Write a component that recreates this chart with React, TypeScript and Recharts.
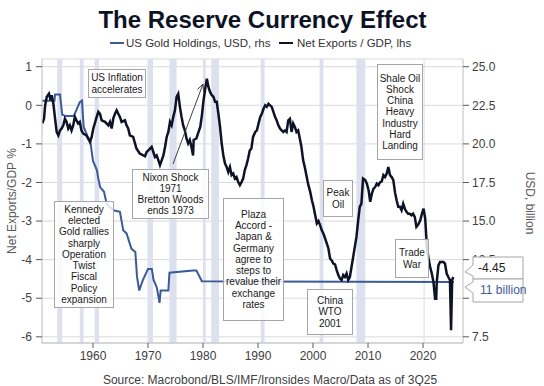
import { LineChart, Line, XAxis, YAxis, CartesianGrid, ReferenceArea } from 'recharts';

// Net exports / GDP (%), quarterly-ish
const netExportYears = [
  1950.8, 1951.1, 1951.3, 1951.6, 1952.0, 1952.3, 1952.5, 1952.8, 1953.1, 1953.4, 1953.7, 1954.0,
  1954.3, 1954.6, 1954.9, 1955.2, 1955.5, 1955.8, 1956.1, 1956.4, 1956.7, 1957.0, 1957.3, 1957.6,
  1957.9, 1958.2, 1958.8, 1959.45, 1959.76, 1960.06, 1960.67, 1960.97, 1961.27, 1961.58, 1962.18,
  1962.79, 1963.09, 1963.39, 1963.7, 1964.0, 1964.3, 1964.6, 1964.9, 1965.2, 1965.8, 1966.1, 1966.4,
  1966.7, 1967.3, 1967.9, 1968.5, 1969.15, 1969.45, 1969.76, 1970.06, 1970.67, 1970.97, 1971.27,
  1971.58, 1971.88, 1972.18, 1972.5, 1972.8, 1973.1, 1973.4, 1973.7, 1974.0, 1974.3, 1974.6, 1974.9,
  1975.2, 1975.5, 1975.8, 1976.1, 1976.4, 1976.7, 1977.0, 1977.3, 1977.6, 1977.9, 1978.2, 1978.3,
  1978.8, 1979.1, 1979.5, 1979.8, 1980.1, 1980.4, 1980.7, 1981.0, 1981.3, 1981.6, 1981.9, 1982.2,
  1982.5, 1982.8, 1983.1, 1983.4, 1983.7, 1984.0, 1984.3, 1984.6, 1984.9, 1985.2, 1985.5, 1985.8,
  1986.1, 1986.4, 1986.7, 1987.0, 1987.3, 1987.6, 1987.9, 1988.2, 1988.5, 1988.8, 1989.1, 1989.5,
  1989.8, 1990.1, 1990.4, 1990.7, 1991.0, 1991.3, 1991.6, 1991.9, 1992.2, 1992.5, 1992.8, 1993.1,
  1993.4, 1993.7, 1994.0, 1994.3, 1994.6, 1994.9, 1995.2, 1995.5, 1995.8, 1996.1, 1996.4, 1996.7,
  1997.0, 1997.3, 1997.6, 1997.9, 1998.2, 1998.5, 1998.8, 1999.1, 1999.5, 1999.8, 2000.1, 2000.4,
  2000.7, 2001.0, 2001.3, 2001.6, 2001.9, 2002.2, 2002.5, 2002.8, 2003.1, 2003.4, 2003.7, 2004.0,
  2004.3, 2004.6, 2004.9, 2005.2, 2005.5, 2005.8, 2006.1, 2006.4, 2006.7, 2007.0, 2007.3, 2007.6,
  2007.9, 2008.2, 2008.5, 2008.8, 2009.1, 2009.5, 2009.8, 2010.1, 2010.4, 2010.7, 2011.0, 2011.3,
  2011.6, 2011.9, 2012.2, 2012.5, 2012.8, 2013.1, 2013.4, 2013.7, 2014.0, 2014.3, 2014.6, 2014.9,
  2015.2, 2015.5, 2015.8, 2016.1, 2016.4, 2016.7, 2017.0, 2017.3, 2017.6, 2017.9, 2018.2, 2018.5,
  2018.8, 2019.1, 2019.5, 2019.8, 2020.1, 2020.4, 2020.7, 2021.0, 2021.3, 2021.6, 2021.9, 2022.2,
  2022.4, 2022.5, 2022.8, 2023.1, 2023.4, 2023.7, 2024.0, 2024.3, 2024.6, 2024.9, 2025.1, 2025.3,
  2025.5,
];
const netExportValues = [
  -0.47, -0.34, 0.0, 0.22, 0.3, 0.13, 0.26, 0.04, -0.34, -0.69, -0.78, -0.65,
  -0.6, -0.52, -0.35, -0.43, -0.6, -0.52, -0.65, -0.52, -0.3, -0.39, -0.47, -0.43,
  -0.65, -0.73, -0.78, -0.95, -0.82, -0.6, -0.3, -0.17, -0.22, -0.39, -0.43,
  -0.52, -0.43, -0.6, -0.34, -0.22, -0.13, -0.22, -0.3, -0.43, -0.39, -0.52, -0.6,
  -0.78, -0.82, -1.12, -1.25, -1.3, -1.32, -1.21, -1.17, -1.08, -1.21, -1.34,
  -1.3, -1.42, -1.55, -1.42, -1.3, -1.08, -0.82, -0.69, -0.43, -0.52, -0.3, -0.13,
  0.22, 0.3, -0.04, -0.3, -0.52, -0.65, -0.86, -0.99, -0.9, -1.08, -1.3, -0.9,
  -0.86, -0.73, -0.56, -0.26, 0.13, 0.43, 0.69, 0.47, 0.34, 0.26, 0.22, 0.09,
  0.09, -0.22, -0.56, -0.99, -1.3, -1.51, -1.6, -1.73, -1.6, -1.81, -1.77, -1.9,
  -1.86, -1.99, -2.07, -1.99, -1.9, -1.68, -1.55, -1.38, -1.17, -1.12, -0.82, -0.69,
  -0.65, -0.47, -0.3, -0.22, -0.09, 0.0, -0.04, 0.04, 0.0, -0.04, -0.17, -0.3,
  -0.39, -0.52, -0.6, -0.65, -0.69, -0.65, -0.69, -0.39, -0.35, -0.69, -0.47, -0.56,
  -0.69, -0.65, -0.86, -1.08, -1.42, -1.6, -1.81, -2.03, -2.25, -2.46, -2.63, -2.85,
  -3.06, -3.0, -3.11, -3.24, -3.33, -3.45, -3.58, -3.71, -3.97, -4.02, -4.1, -4.12,
  -4.27, -4.4, -4.49, -4.53, -4.4, -4.45, -4.36, -4.53, -4.45, -4.19, -3.93, -3.67,
  -3.41, -3.0, -2.63, -2.55, -1.9, -1.94, -2.03, -2.2, -2.5, -2.29, -2.16, -2.12,
  -2.03, -2.07, -1.99, -1.97, -1.81, -1.86, -1.77, -1.6, -1.81, -1.86, -1.94, -2.25,
  -2.46, -2.63, -2.63, -2.72, -2.55, -2.68, -2.76, -2.81, -2.81, -2.85, -2.81, -2.89,
  -3.15, -3.1, -2.98, -2.81, -2.68, -2.94, -3.67, -3.97, -4.19, -4.36, -4.58, -5.01,
  -5.01, -4.58, -4.15, -4.06, -4.06, -4.06, -4.1, -4.36, -4.45, -4.53, -5.83, -4.53,
  -4.45,
];

// US gold holdings, USD billion
const goldYears = [
  1950.75, 1953.0, 1953.1, 1954.0, 1954.4, 1955.0, 1956.5, 1957.0, 1957.6, 1958.0, 1958.3, 1959.0,
  1959.5, 1960.0, 1960.7, 1961.0, 1961.3, 1962.0, 1962.5, 1963.1, 1963.7, 1964.9, 1965.5, 1966.1,
  1967.0, 1967.7, 1968.0, 1968.4, 1969.1, 1970.0, 1970.7, 1971.0, 1971.6, 1972.1, 1972.3, 1973.7,
  1973.9, 1978.2, 1978.8, 1979.8, 2025.6,
];
const goldValues = [
  22.8, 22.8, 23.2, 23.2, 21.9, 21.8, 21.8, 22.2, 22.7, 22.8, 21.1, 20.5,
  20.2, 18.9, 18.3, 17.7, 17.2, 16.9, 16.1, 15.9, 15.7, 15.6, 14.4, 14.2,
  13.2, 13.0, 11.4, 10.5, 11.2, 11.9, 11.9, 11.2, 10.7, 9.7, 10.5, 10.5,
  11.65, 11.8, 11.8, 11.1, 11.05,
];

// US recessions (shaded)
const recessionStarts = [1953.5, 1957.6, 1960.3, 1969.9, 1973.9, 1980.0, 1981.5, 1990.5, 2001.2, 2007.9, 2020.1];
const recessionEnds = [1954.4, 1958.3, 1961.1, 1970.9, 1975.2, 1980.5, 1982.9, 1991.2, 2001.9, 2009.5, 2020.3];

const yearTicks = [1960, 1970, 1980, 1990, 2000, 2010, 2020];
const lhsTicks = [-6, -5, -4, -3, -2, -1, 0, 1];
const rhsTicks = [7.5, 10, 12.5, 15, 17.5, 20, 22.5, 25];
// labels hidden behind the value callouts in the original
const rhsHiddenLabels = [10];

const netExportsData = netExportYears.map((year, i) => ({ year, value: netExportValues[i] }));
const goldData = goldYears.map((year, i) => ({ year, gold: goldValues[i] }));

const FONT = "'Liberation Sans', Arial, sans-serif";
const BLUE = '#3b5b98';
const BLACK = '#0d1226';

const notes = [
  { x: 88, y: 69, w: 58, h: 29, lines: ['US Inflation', 'accelerates'] },
  { x: 132, y: 169, w: 77, h: 50, lines: ['Nixon Shock', '1971', 'Bretton Woods', 'ends 1973'] },
  { x: 54, y: 201, w: 60, h: 107, lines: ['Kennedy', 'elected', 'Gold rallies', 'sharply', 'Operation', 'Twist', 'Fiscal', 'Policy', 'expansion'] },
  { x: 223, y: 198, w: 61, h: 123, lines: ['Plaza', 'Accord -', 'Japan &', 'Germany', 'agree to', 'steps to', 'revalue their', 'exchange', 'rates'] },
  { x: 323, y: 180, w: 30, h: 37, lines: ['Peak', 'Oil'] },
  { x: 307, y: 289, w: 46, h: 46, lines: ['China', 'WTO', '2001'] },
  { x: 377, y: 64, w: 46, h: 96, lines: ['Shale Oil', 'Shock', 'China', 'Heavy', 'Industry', 'Hard', 'Landing'] },
  { x: 395, y: 239, w: 34, h: 39, lines: ['Trade', 'War'] },
];

function arrowHead(x1: number, y1: number, x2: number, y2: number, len: number) {
  const a = Math.atan2(y1 - y2, x1 - x2);
  const d = (25 * Math.PI) / 180;
  return `M${x2 + len * Math.cos(a + d)},${y2 + len * Math.sin(a + d)} L${x2},${y2} L${x2 + len * Math.cos(a - d)},${y2 + len * Math.sin(a - d)}`;
}

const RhsTick = (props: any) => {
  const { x, y, payload } = props;
  if (rhsHiddenLabels.includes(payload.value)) return null;
  return (
    <text x={x} y={y} dy="0.355em" textAnchor="start" fontSize={12} fontFamily={FONT} fill="#404040">
      {Number(payload.value).toFixed(1)}
    </text>
  );
};

export default function App() {
  const tickStyle = { fill: '#404040', fontSize: 12, fontFamily: FONT };
  return (
    <div style={{ position: 'relative', width: 544, height: 386, fontFamily: FONT, background: '#fff' }}>
      <style>{`body{margin:0}`}</style>
      <LineChart width={544} height={386} margin={{ top: 59, right: 0, bottom: 0, left: 0 }}>
        {recessionStarts.map((s, i) => (
          <ReferenceArea
            key={`rec-${i}`}
            x1={s}
            x2={recessionEnds[i]}
            yAxisId="lhs"
            fill="#dde0ee"
            fillOpacity={1}
            stroke="none"
            ifOverflow="hidden"
          />
        ))}
        <CartesianGrid yAxisId="lhs" vertical={false} stroke="#d9d9d9" />
        <XAxis
          dataKey="year"
          type="number"
          domain={[1950.73, 2027.27]}
          ticks={yearTicks}
          allowDataOverflow
          height={43}
          tickSize={5}
          tickMargin={3}
          axisLine={{ stroke: '#bfbfbf' }}
          tickLine={{ stroke: '#595959' }}
          tick={tickStyle}
        />
        <YAxis
          yAxisId="lhs"
          domain={[-6.16, 1.2]}
          ticks={lhsTicks}
          allowDataOverflow
          width={42}
          tickSize={6}
          tickMargin={4}
          axisLine={{ stroke: '#bfbfbf' }}
          tickLine={{ stroke: '#595959' }}
          tick={tickStyle}
        />
        <YAxis
          yAxisId="rhs"
          orientation="right"
          domain={[7.1, 25.5]}
          ticks={rhsTicks}
          allowDataOverflow
          width={81}
          tickSize={6}
          tickMargin={3}
          axisLine={{ stroke: '#bfbfbf' }}
          tickLine={{ stroke: '#595959' }}
          tick={<RhsTick />}
        />
        <Line
          data={goldData}
          dataKey="gold"
          yAxisId="rhs"
          type="linear"
          stroke={BLUE}
          strokeWidth={2}
          dot={false}
          isAnimationActive={false}
        />
        <Line
          data={netExportsData}
          dataKey="value"
          yAxisId="lhs"
          type="linear"
          stroke={BLACK}
          strokeWidth={2.5}
          dot={false}
          isAnimationActive={false}
        />
      </LineChart>

      {/* title + legend */}
      <div style={{ position: 'absolute', left: 0, top: 8, width: 525, textAlign: 'center', fontSize: 24, lineHeight: '24px', fontWeight: 700, color: '#0d1326' }}>
        The Reserve Currency Effect
      </div>
      <div style={{ position: 'absolute', left: 110, top: 42, width: 14, height: 2, background: BLUE }} />
      <div style={{ position: 'absolute', left: 126, top: 36, fontSize: 11.5, lineHeight: '14px', color: '#333', whiteSpace: 'nowrap' }}>
        US Gold Holdings, USD, rhs
      </div>
      <div style={{ position: 'absolute', left: 279, top: 42, width: 14, height: 2, background: BLACK }} />
      <div style={{ position: 'absolute', left: 297, top: 36, fontSize: 11.5, lineHeight: '14px', color: '#333', whiteSpace: 'nowrap' }}>
        Net Exports / GDP, lhs
      </div>

      {/* axis titles */}
      <div style={{ position: 'absolute', left: 12, top: 201, transform: 'translate(-50%,-50%) rotate(-90deg)', fontSize: 12, color: '#595959', whiteSpace: 'nowrap' }}>
        Net Exports/GDP %
      </div>
      <div style={{ position: 'absolute', left: 530, top: 203, transform: 'translate(-50%,-50%) rotate(90deg)', fontSize: 12, color: '#595959', whiteSpace: 'nowrap' }}>
        USD, billion
      </div>

      {/* source */}
      <div style={{ position: 'absolute', left: 0, top: 373, width: 540, textAlign: 'center', fontSize: 12, lineHeight: '14px', color: '#404040' }}>
        Source: Macrobond/BLS/IMF/Ironsides Macro/Data as of 3Q25
      </div>

      {/* annotation boxes */}
      {notes.map((n, i) => (
        <div
          key={`note-${i}`}
          style={{
            position: 'absolute',
            left: n.x,
            top: n.y,
            width: n.w,
            height: n.h,
            boxSizing: 'border-box',
            border: '1px solid #a6a6a6',
            background: 'rgba(255,255,255,0.82)',
            display: 'flex',
            flexDirection: 'column',
            justifyContent: 'center',
            alignItems: 'center',
            fontSize: 10,
            lineHeight: '11.25px',
            color: '#1a1a1a',
            whiteSpace: 'nowrap',
          }}
        >
          {n.lines.map((l, j) => (
            <div key={j}>{l}</div>
          ))}
        </div>
      ))}

      {/* arrow + value callouts */}
      <svg width={544} height={386} style={{ position: 'absolute', left: 0, top: 0, pointerEvents: 'none' }}>
        <line x1={173} y1={164} x2={203} y2={84} stroke="#404040" strokeWidth={1} />
        <path d={arrowHead(173, 164, 203, 84, 8)} fill="none" stroke="#404040" strokeWidth={1} />
        <path d="M473,257 H523 V279 H473 V276 L465,272 L473,265 Z" fill="#fff" stroke="#a6a6a6" strokeWidth={1} />
        <text x={478} y={272} fontSize={12} fontFamily={FONT} fill="#1a1a1a">-4.45</text>
        <path d="M473,279 H523 V302 H473 V293 L465,287 L473,282 Z" fill="#fff" stroke="#a6a6a6" strokeWidth={1} />
        <text x={480} y={294} fontSize={12} fontFamily={FONT} fill={BLUE}>11 billion</text>
      </svg>
    </div>
  );
}
